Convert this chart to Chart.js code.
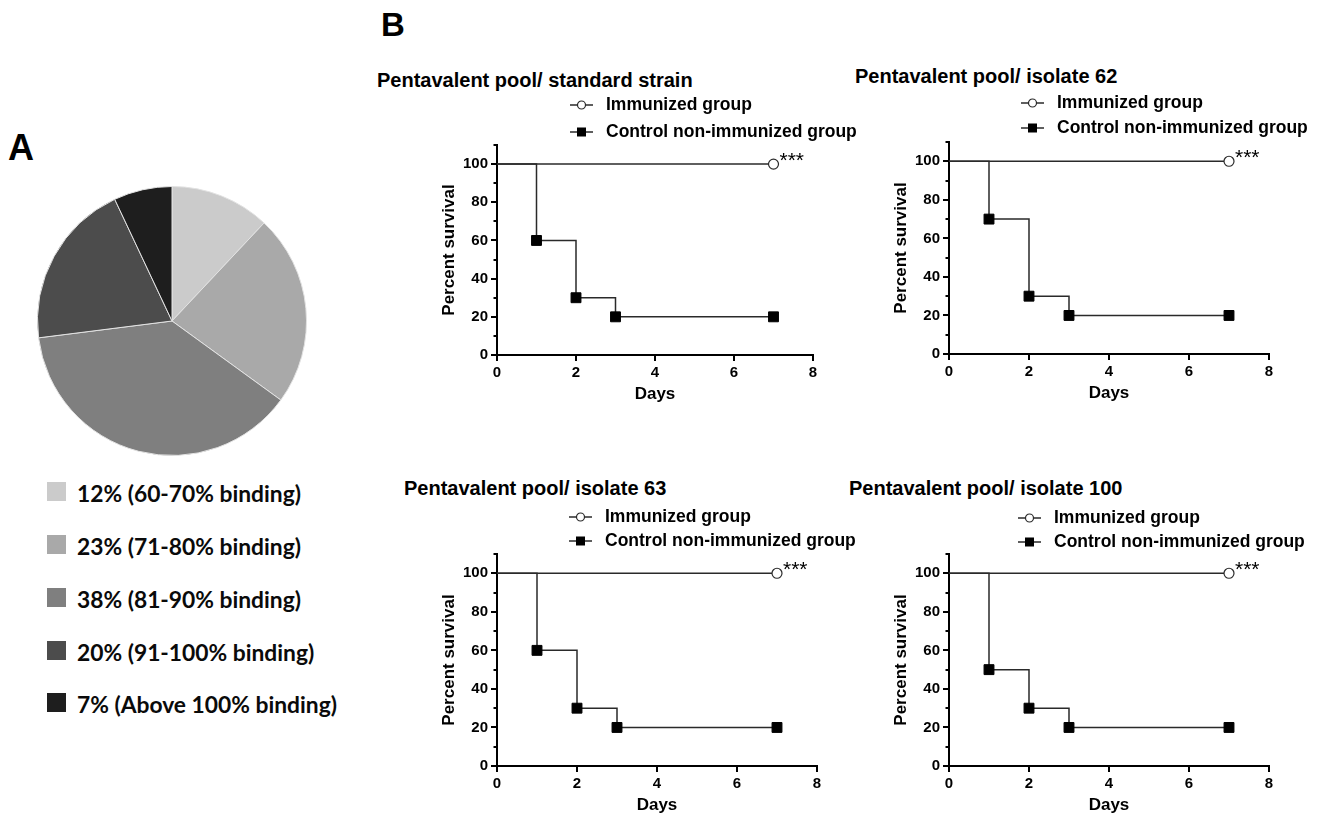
<!DOCTYPE html>
<html><head><meta charset="utf-8">
<script src="https://cdn.jsdelivr.net/npm/chart.js@4.4.1/dist/chart.umd.min.js"></script>
<style>
html,body{margin:0;padding:0;background:#fff;width:1318px;height:818px;overflow:hidden;position:relative}
canvas{position:absolute}
.t{position:absolute;white-space:nowrap;color:#000;font-family:"Liberation Sans",Arial,sans-serif;font-weight:bold}
.pl{position:absolute;white-space:nowrap;color:#0a0a0a;font-family:Lato,"Open Sans",sans-serif;font-weight:bold;font-size:22.8px;line-height:22.8px}
.sq{position:absolute;width:19px;height:19px}
svg{position:absolute;overflow:visible}
</style></head><body>
<script>
// ---- data ----
const pieLabels = ['12% (60-70% binding)', '23% (71-80% binding)', '38% (81-90% binding)', '20% (91-100% binding)', '7% (Above 100% binding)'];
const pieValues = [12, 23, 38, 20, 7];
const panelTitles = ['Pentavalent pool/ standard strain', 'Pentavalent pool/ isolate 62', 'Pentavalent pool/ isolate 63', 'Pentavalent pool/ isolate 100'];
const seriesNames = ['Immunized group', 'Control non-immunized group'];
const immunDays = [0, 7];
const immunSurvival = [100, 100];
const controlDays = [0, 1, 2, 3, 7];
const controlStandard = [100, 60, 30, 20, 20];
const control62 = [100, 70, 30, 20, 20];
const control63 = [100, 60, 30, 20, 20];
const control100 = [100, 50, 30, 20, 20];
const sigLabels = ['***', '***', '***', '***'];
const xTicks = [0, 2, 4, 6, 8];
const yTicks = [0, 20, 40, 60, 80, 100];
const yMinorTicks = [10, 30, 50, 70, 90, 110];
const xAxisTitle = 'Days';
const yAxisTitle = 'Percent survival';
const panelLetters = ['A', 'B'];

// ---- styles ----
const pieColors = ['#cbcbcb', '#a9a9a9', '#7f7f7f', '#4c4c4c', '#1e1e1e'];
const FAM = '"Liberation Sans", Arial, sans-serif';
const LINE = '#2a2a2a';

function addText(cls, txt, left, top, size) {
  const d = document.createElement('div');
  d.className = cls; d.textContent = txt;
  d.style.left = left + 'px'; d.style.top = top + 'px';
  if (size) { d.style.fontSize = size + 'px'; d.style.lineHeight = size + 'px'; }
  document.body.appendChild(d);
  return d;
}
// Liberation Sans: top = baseline - 0.8465*size
function addTextBase(txt, left, baseline, size) {
  return addText('t', txt, left, baseline - 0.8465 * size, size);
}

// ---- panel letters ----
addTextBase(panelLetters[0], 8, 160, 36);
addTextBase(panelLetters[1], 381, 36, 33);

// ---- pie ----
const pc = document.createElement('canvas');
pc.width = 280; pc.height = 280; pc.style.left = '32px'; pc.style.top = '181px';
pc.style.width = '280px'; pc.style.height = '280px';
document.body.appendChild(pc);
new Chart(pc, {
  type: 'pie',
  data: { labels: pieLabels, datasets: [{ data: pieValues, backgroundColor: pieColors, borderColor: '#e2e2e2', borderWidth: 1 }] },
  options: { responsive: false, animation: false, devicePixelRatio: 1, layout: { padding: 5 },
    plugins: { legend: { display: false }, tooltip: { enabled: false } } }
});
const pieRowTops = [482, 535, 588, 641, 693];
pieLabels.forEach((lab, i) => {
  const s = document.createElement('div');
  s.className = 'sq'; s.style.left = '47px'; s.style.top = pieRowTops[i] + 'px'; s.style.background = pieColors[i];
  document.body.appendChild(s);
  addText('pl', lab, 77, pieRowTops[i] - 0.5);
});

// ---- survival panels ----
const panels = [
  { control: controlStandard, area: { l: 497, r: 813, t: 145, b: 355 }, title: [377, 86.7], leg: [606, 110.7, 138.3] },
  { control: control62,       area: { l: 949, r: 1269, t: 142, b: 354 }, title: [855, 82.7], leg: [1057, 109.3, 134] },
  { control: control63,       area: { l: 497, r: 817, t: 554, b: 766 }, title: [404, 495], leg: [605, 523.3, 547.3] },
  { control: control100,      area: { l: 949, r: 1269, t: 554, b: 766 }, title: [849, 495], leg: [1054, 524.3, 548.3] }
];
const W_Y = 58, H_X = 50, PAD_T = 14, PAD_R = 30;

const annotPlugin = {
  id: 'annot',
  afterDraw(chart, args, opts) {
    const ctx = chart.ctx, ys = chart.scales.y, left = chart.chartArea.left;
    ctx.save();
    ctx.strokeStyle = '#000'; ctx.lineWidth = 2;
    yMinorTicks.forEach(v => {
      const py = Math.round(ys.getPixelForValue(v));
      ctx.beginPath(); ctx.moveTo(left - 3.5, py); ctx.lineTo(left, py); ctx.stroke();
    });
    const meta = chart.getDatasetMeta(0);
    const pt = meta.data[meta.data.length - 1];
    ctx.fillStyle = '#000';
    ctx.font = '21px ' + FAM;
    ctx.textAlign = 'left'; ctx.textBaseline = 'alphabetic';
    ctx.fillText(opts.label, pt.x + 6, pt.y + 3);
    ctx.restore();
  }
};

function legendSymbol(x, cy, kind) {
  const ns = 'http://www.w3.org/2000/svg';
  const svg = document.createElementNS(ns, 'svg');
  svg.setAttribute('width', '24'); svg.setAttribute('height', '14');
  svg.style.left = x + 'px'; svg.style.top = (cy - 7) + 'px';
  const ln = document.createElementNS(ns, 'line');
  ln.setAttribute('x1', '0'); ln.setAttribute('x2', '23'); ln.setAttribute('y1', '7'); ln.setAttribute('y2', '7');
  ln.setAttribute('stroke', LINE); ln.setAttribute('stroke-width', '1.5');
  svg.appendChild(ln);
  if (kind === 0) {
    const c = document.createElementNS(ns, 'circle');
    c.setAttribute('cx', '11.5'); c.setAttribute('cy', '7'); c.setAttribute('r', '4');
    c.setAttribute('fill', '#fff'); c.setAttribute('stroke', LINE); c.setAttribute('stroke-width', '1.2');
    svg.appendChild(c);
  } else {
    const r = document.createElementNS(ns, 'rect');
    r.setAttribute('x', '7'); r.setAttribute('y', '2.5'); r.setAttribute('width', '9'); r.setAttribute('height', '9');
    r.setAttribute('fill', '#000');
    svg.appendChild(r);
  }
  document.body.appendChild(svg);
}

panels.forEach((p, idx) => {
  const a = p.area;
  const w = a.r - a.l + W_Y + PAD_R, h = a.b - a.t + PAD_T + H_X;
  const cv = document.createElement('canvas');
  cv.width = w; cv.height = h;
  cv.style.left = (a.l - W_Y) + 'px'; cv.style.top = (a.t - PAD_T) + 'px';
  cv.style.width = w + 'px'; cv.style.height = h + 'px';
  document.body.appendChild(cv);

  const tickFont = { family: FAM, size: 15, weight: 'bold' };
  const titleFont = { family: FAM, size: 17, weight: 'bold' };
  new Chart(cv, {
    type: 'line',
    data: { datasets: [
      { label: seriesNames[0], data: immunDays.map((d, i) => ({ x: d, y: immunSurvival[i] })),
        stepped: 'before', borderColor: LINE, borderWidth: 1.5, fill: false,
        pointStyle: 'circle', pointRadius: immunDays.map((d, i) => i === 0 ? 0 : 5),
        pointBackgroundColor: '#fff', pointBorderColor: LINE, pointBorderWidth: 1.2 },
      { label: seriesNames[1], data: controlDays.map((d, i) => ({ x: d, y: p.control[i] })),
        stepped: 'before', borderColor: LINE, borderWidth: 1.5, fill: false,
        pointStyle: 'rect', pointRadius: controlDays.map((d, i) => i === 0 ? 0 : 7),
        pointBackgroundColor: '#000', pointBorderColor: '#000', pointBorderWidth: 1 }
    ] },
    options: {
      responsive: false, animation: false, devicePixelRatio: 1,
      layout: { padding: { top: PAD_T, right: PAD_R, left: 0, bottom: 0 } },
      plugins: { legend: { display: false }, tooltip: { enabled: false }, annot: { label: sigLabels[idx] } },
      scales: {
        x: { type: 'linear', min: 0, max: 8,
          afterFit: s => { s.height = H_X; },
          afterBuildTicks: s => { s.ticks = xTicks.map(v => ({ value: v })); },
          ticks: { font: tickFont, color: '#000', padding: 3, maxRotation: 0, autoSkip: false },
          grid: { drawOnChartArea: false, drawTicks: true, tickLength: 6, color: '#000', lineWidth: 2 },
          border: { color: '#000', width: 2 },
          title: { display: true, text: xAxisTitle, font: titleFont, color: '#000', padding: 0 } },
        y: { type: 'linear', min: 0, max: 110,
          afterFit: s => { s.width = W_Y; },
          afterBuildTicks: s => { s.ticks = yTicks.map(v => ({ value: v })); },
          ticks: { font: tickFont, color: '#000', padding: 3, autoSkip: false },
          grid: { drawOnChartArea: false, drawTicks: true, tickLength: 6, color: '#000', lineWidth: 2 },
          border: { color: '#000', width: 2 },
          title: { display: true, text: yAxisTitle, font: titleFont, color: '#000', padding: 0 } }
      }
    },
    plugins: [annotPlugin]
  });

  addTextBase(panelTitles[idx], p.title[0], p.title[1], 20);
  const lx = p.leg[0];
  addTextBase(seriesNames[0], lx, p.leg[1], 17.5);
  addTextBase(seriesNames[1], lx, p.leg[2], 17.5);
  legendSymbol(lx - 36, p.leg[1] - 6, 0);
  legendSymbol(lx - 36, p.leg[2] - 6, 1);
});
</script>
</body></html>
